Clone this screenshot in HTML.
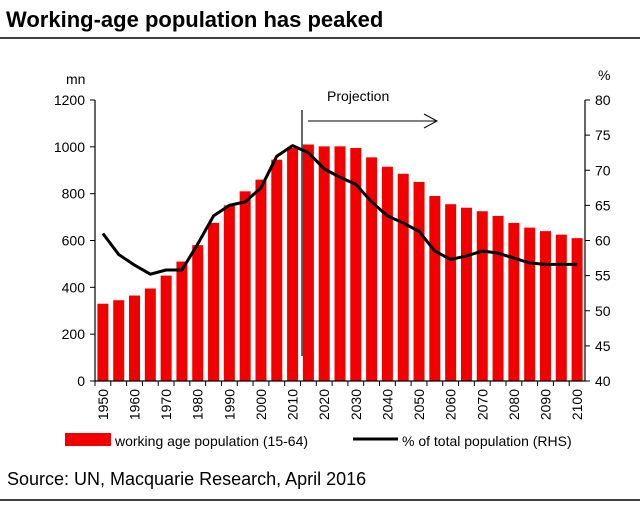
<!DOCTYPE html>
<html><head><meta charset="utf-8"><style>
body{margin:0;width:640px;height:506px;background:#fff;font-family:"Liberation Sans",sans-serif;overflow:hidden}
</style></head><body>
<svg width="640" height="506">
<text x="6" y="27" font-size="22" font-weight="bold">Working-age population has peaked</text>
<line x1="0" y1="38" x2="640" y2="38" stroke="#000" stroke-width="1.5"/>
<g id="plot"></g>
<text x="66" y="84" font-size="14">mn</text>
<text x="598" y="80" font-size="14">%</text>
<text x="327" y="101" font-size="14">Projection</text>
<g><line x1="308" y1="121" x2="437" y2="121" stroke="#000" stroke-width="1"/><polyline points="424,114 437,121 424,128" fill="none" stroke="#000" stroke-width="1"/></g>
<line x1="302" y1="110" x2="302" y2="356" stroke="#000" stroke-width="1.2"/>
<rect x="65" y="433" width="46" height="13" fill="#f20000"/>
<text x="115" y="446" font-size="14">working age population  (15-64)</text>
<line x1="353" y1="439" x2="398" y2="439" stroke="#000" stroke-width="3"/>
<text x="402" y="446" font-size="14">% of total population (RHS)</text>
<text x="7" y="485" font-size="18">Source: UN, Macquarie Research, April 2016</text>
<line x1="0" y1="500" x2="640" y2="500" stroke="#000" stroke-width="1.5"/>
</svg>
<script>
const years=[1950,1955,1960,1965,1970,1975,1980,1985,1990,1995,2000,2005,2010,2015,2020,2025,2030,2035,2040,2045,2050,2055,2060,2065,2070,2075,2080,2085,2090,2095,2100];
const workingAge=[330,345,365,395,450,510,580,675,750,810,860,945,995,1010,1002,1002,995,955,915,885,850,790,755,740,725,705,675,655,640,625,610];
const pctTotal=[61,58,56.5,55.2,55.8,55.8,59.5,63.5,65,65.5,67.5,72,73.5,72.5,70.2,69,68,65.5,63.5,62.5,61.3,58.5,57.3,57.8,58.5,58.2,57.5,56.8,56.6,56.6,56.6];
const leftTicks=[0,200,400,600,800,1000,1200];
const rightTicks=[40,45,50,55,60,65,70,75,80];
const NS="http://www.w3.org/2000/svg";
const g=document.getElementById('plot');
const X0=95,X1=585,Y0=381,Y1=100,step=(X1-X0)/years.length;
const xc=i=>X0+step*(i+0.5);
const yL=v=>Y0-(v/1200)*(Y0-Y1);
const yR=v=>Y0-((v-40)/40)*(Y0-Y1);
function mk(t,a){const e=document.createElementNS(NS,t);for(const k in a)e.setAttribute(k,a[k]);g.appendChild(e);return e;}
workingAge.forEach((v,i)=>{const r=mk('rect',{x:xc(i)-5.5,y:yL(v),width:11,height:Y0-yL(v),fill:'#f20000'});

});
const ax=mk('path',{d:`M${X0},${Y1}V${Y0}H${X1}V${Y1}`,fill:'none',stroke:'#000','stroke-width':1.2});


leftTicks.forEach(v=>{mk('line',{x1:X0-5,x2:X0,y1:yL(v),y2:yL(v),stroke:'#000'});
const t=mk('text',{x:X0-10,y:yL(v)+5,'text-anchor':'end','font-size':14});t.textContent=v;

});
rightTicks.forEach(v=>{mk('line',{x1:X1,x2:X1+5,y1:yR(v),y2:yR(v),stroke:'#000'});
const t=mk('text',{x:X1+10,y:yR(v)+5,'font-size':14});t.textContent=v;

});
years.forEach((y,i)=>{mk('line',{x1:X0+step*i,x2:X0+step*i,y1:Y0,y2:Y0+5,stroke:'#000'});
if(y%10===0){const t=mk('text',{x:0,y:0,'font-size':14,'text-anchor':'end',transform:`translate(${xc(i)+5},${Y0+8}) rotate(-90)`});t.textContent=y;

}});
const ln=mk('polyline',{points:pctTotal.map((v,i)=>xc(i)+','+yR(v)).join(' '),fill:'none',stroke:'#000','stroke-width':3,'stroke-linejoin':'round'});


</script>
</body></html>
